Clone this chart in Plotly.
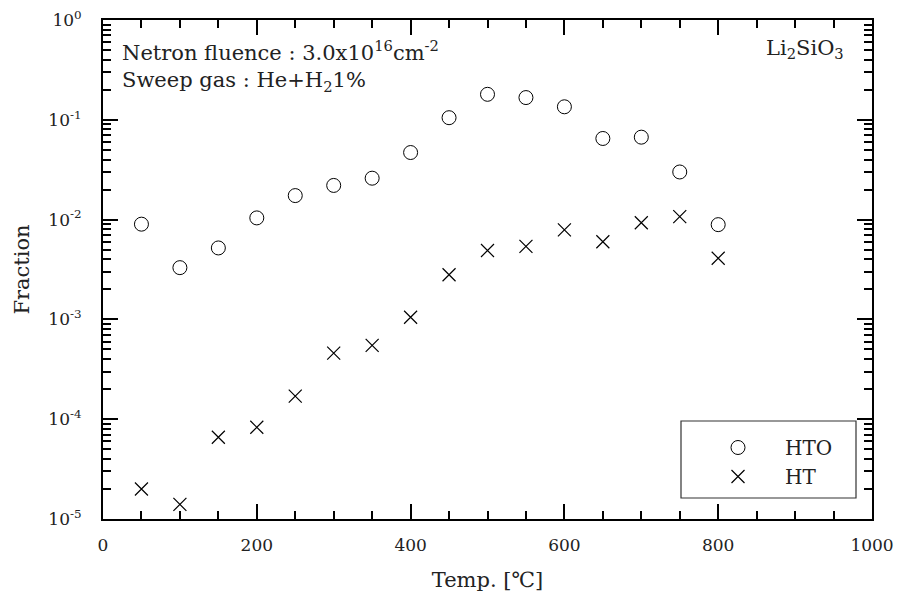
import plotly.graph_objects as go

temps = [50, 100, 150, 200, 250, 300, 350, 400, 450, 500, 550, 600, 650, 700, 750, 800]
hto = [0.0090, 0.0033, 0.0052, 0.0104, 0.0174, 0.022, 0.026, 0.047, 0.105, 0.18, 0.167, 0.135, 0.065, 0.067, 0.030, 0.0089]
ht = [2.0e-5, 1.4e-5, 6.6e-5, 8.3e-5, 1.7e-4, 4.6e-4, 5.5e-4, 1.05e-3, 2.8e-3, 4.9e-3, 5.4e-3, 7.9e-3, 6.0e-3, 9.3e-3, 1.07e-2, 4.1e-3]

y_exps = [-5, -4, -3, -2, -1, 0]
y_tickvals = [10.0 ** e for e in y_exps]
y_ticktext = ["10<sup>%d</sup>" % e for e in y_exps]
y_minor = [m * 10.0 ** e for e in y_exps[:-1] for m in range(2, 10)]

FONT = "DejaVu Serif"
TXT = "#222"

fig = go.Figure()
fig.add_trace(go.Scatter(
    x=temps, y=hto, mode="markers", name="HTO",
    marker=dict(symbol="circle-open", size=14, color="black", line=dict(width=1, color="black")),
))
fig.add_trace(go.Scatter(
    x=temps, y=ht, mode="markers", name="HT",
    marker=dict(symbol="x-thin", size=13, color="black", line=dict(width=1.2, color="black")),
))

axis_common = dict(
    showline=True, linewidth=2, linecolor="black", mirror="allticks",
    ticks="inside", ticklen=15, tickwidth=2, tickcolor="black",
    showgrid=False, zeroline=False, automargin=False,
    ticklabeloverflow="allow",
    tickfont=dict(family=FONT, size=17, color=TXT),
)

fig.update_xaxes(
    range=[0, 1000], tickvals=[0, 200, 400, 600, 800, 1000],
    minor=dict(ticks="inside", ticklen=8, tickwidth=2, tickcolor="black", dtick=50),
    ticklabelstandoff=10,
    title=dict(text="Temp. [\u2103]", font=dict(family=FONT, size=21, color=TXT), standoff=18),
    **axis_common,
)
fig.update_yaxes(
    type="log", range=[-5, 0], tickvals=y_tickvals, ticktext=y_ticktext,
    minor=dict(ticks="inside", ticklen=8, tickwidth=2, tickcolor="black", tickvals=y_minor),
    ticklabelstandoff=16,
    title=dict(text="Fraction", font=dict(family=FONT, size=21, color=TXT), standoff=13),
    **axis_common,
)

fig.add_annotation(
    xref="paper", yref="paper", x=0.0215, y=0.97, xanchor="left", yanchor="top",
    align="left", showarrow=False,
    text="Netron fluence : 3.0x10<sup>16</sup>cm<sup>-2</sup><br>Sweep gas : He+H<sub>2</sub>1%",
    font=dict(family=FONT, size=21, color=TXT),
)
fig.add_annotation(
    xref="paper", yref="paper", x=0.966, y=0.972, xanchor="right", yanchor="top",
    showarrow=False,
    text="Li<sub>2</sub>SiO<sub>3</sub>",
    font=dict(family=FONT, size=21, color=TXT),
)

# legend frame
fig.add_shape(type="rect", xref="paper", yref="paper",
              x0=(681 - 103) / 769, x1=(856 - 103) / 769,
              y0=(519 - 498) / 499, y1=(519 - 421) / 499,
              line=dict(color="#333", width=1.2), fillcolor="rgba(0,0,0,0)")

fig.update_layout(
    width=899, height=603,
    margin=dict(l=103, r=27, t=20, b=84),
    paper_bgcolor="white", plot_bgcolor="white",
    showlegend=True,
    legend=dict(
        x=(691 - 103) / 769, y=(519 - 428) / 499, xanchor="left", yanchor="top",
        bgcolor="rgba(0,0,0,0)", borderwidth=0,
        font=dict(family=FONT, size=20, color=TXT),
        itemwidth=84, tracegroupgap=0,
    ),
)

fig.write_html(
    "out.html",
    config={"displayModeBar": False},
    post_script="document.body.style.margin='0';document.body.style.overflow='hidden';",
)
